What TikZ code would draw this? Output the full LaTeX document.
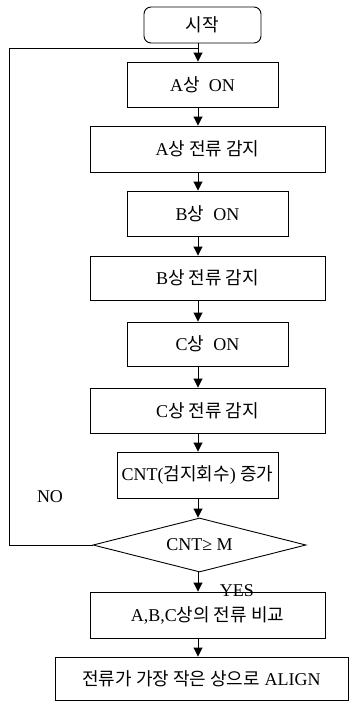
\documentclass[tikz,border=0pt]{standalone}
\usepackage{fontspec}
\setmainfont{Liberation Serif}
\newfontfamily\korfont[Scale=1.0]{Noto Sans CJK KR}
\newcommand{\ko}[1]{{\korfont #1}}
\usetikzlibrary{arrows.meta,shapes.geometric}
\begin{document}
\begin{tikzpicture}[x=1pt,y=-1pt,
  every node/.style={font=\fontsize{18}{21}\selectfont},
  box/.style={draw,line width=0.9pt,inner sep=0pt,minimum width=#1},
  flow/.style={line width=0.9pt,-{Triangle[width=9pt,length=9pt]}},
  line/.style={line width=0.9pt}]
\useasboundingbox (0,0) rectangle (349,702);
\node[box=117,minimum height=36,rounded corners=7pt] (start) at (202.5,25) {\ko{시작}};
\node[box=151,minimum height=45] (a1) at (202.5,84.5) {A\ko{상}\ \ ON};
\node[box=235,minimum height=46] (a2) at (207.5,149) {A\ko{상 전류 감지}};
\node[box=161,minimum height=45] (b1) at (207.5,213.5) {B\ko{상}\ \ ON};
\node[box=235,minimum height=44] (b2) at (207.5,278) {B\ko{상 전류 감지}};
\node[box=161,minimum height=44] (c1) at (207.5,344) {C\ko{상}\ \ ON};
\node[box=235,minimum height=45] (c2) at (207.5,410.5) {C\ko{상 전류 감지}};
\node[box=161,minimum height=46] (cnt) at (197.5,475) {CNT(\ko{검지회수}) \ko{증가}};
\node[draw,line width=0.9pt,diamond,aspect=4,inner sep=0pt,minimum width=213,minimum height=54] (dia) at (199.5,545) {CNT≥ M};
\node[box=235,minimum height=46] (abc) at (207.5,615) {A,B,C\ko{상의 전류 비교}};
\node[box=293,minimum height=43] (last) at (201.5,678.5) {\ko{전류가 가장 작은 상으로} ALIGN};
\node (no) at (50,497) {NO};
\node (yes) at (237,591) {YES};
\coordinate (col) at (198,0);
\coordinate (lp) at (9,48);
\coordinate (jn) at (198,48);
\draw[flow] (start.south -| col) -- (a1.north -| col);
\draw[flow] (a1.south -| col) -- (a2.north -| col);
\draw[flow] (a2.south -| col) -- (b1.north -| col);
\draw[flow] (b1.south -| col) -- (b2.north -| col);
\draw[flow] (b2.south -| col) -- (c1.north -| col);
\draw[flow] (c1.south -| col) -- (c2.north -| col);
\draw[flow] (c2.south -| col) -- (cnt.north -| col);
\draw[flow] (cnt.south -| col) -- (dia.north -| col);
\draw[flow] (dia.south -| col) -- (abc.north -| col);
\draw[flow] (abc.south -| col) -- (last.north -| col);
\draw[line] (dia.west) -| (lp) -- (jn);
\end{tikzpicture}
\end{document}
